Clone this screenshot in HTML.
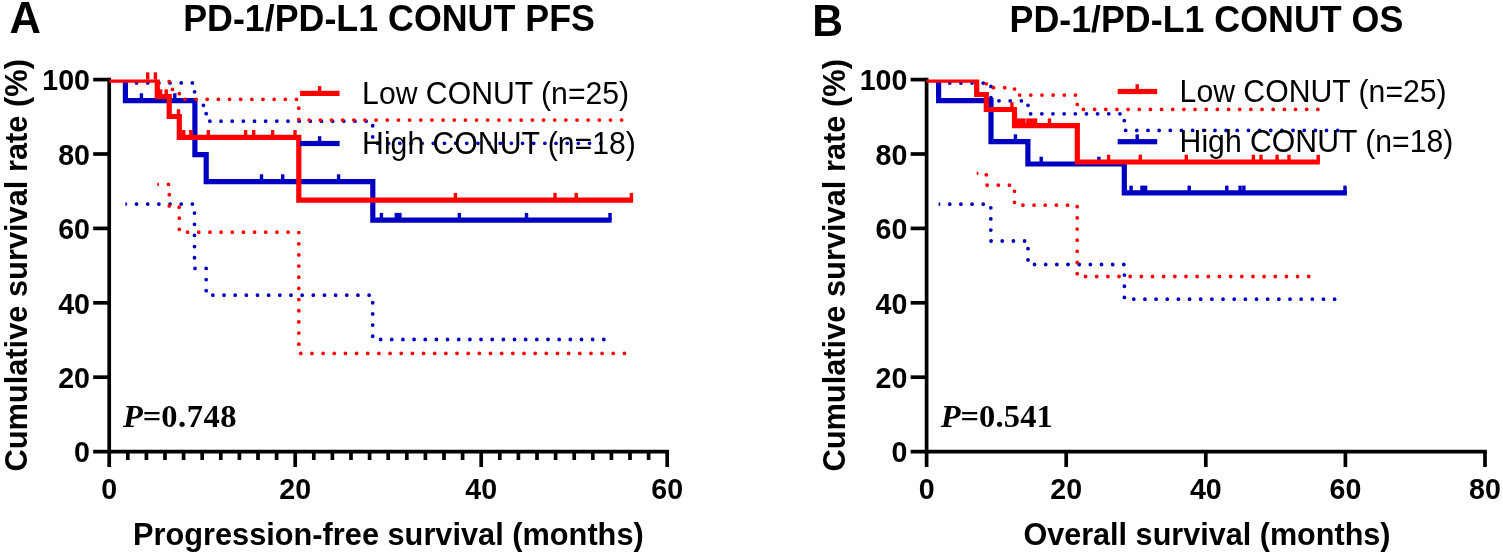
<!DOCTYPE html>
<html><head><meta charset="utf-8"><title>PD-1/PD-L1 CONUT survival</title><style>html,body{margin:0;padding:0;background:#fff;}body{width:1503px;height:554px;overflow:hidden;}svg{display:block;}</style></head><body>
<svg width="1503" height="554" viewBox="0 0 1503 554">
<defs><clipPath id="ca"><rect x="100" y="79.6" width="600" height="380"/></clipPath><clipPath id="cb"><rect x="915" y="79.6" width="600" height="380"/></clipPath><clipPath id="h0"><rect x="125.4" y="0" width="800" height="554"/></clipPath><clipPath id="h1"><rect x="157.3" y="0" width="800" height="554"/></clipPath><clipPath id="h2"><rect x="938.6" y="0" width="800" height="554"/></clipPath><clipPath id="h3"><rect x="976.7" y="0" width="800" height="554"/></clipPath></defs>
<rect width="1503" height="554" fill="#fff"/>
<g stroke="#000000" stroke-width="3.7" fill="none"><line x1="109.2" y1="77.75" x2="109.2" y2="467"/><line x1="93.2" y1="451.6" x2="669.05" y2="451.6"/><line x1="93.2" y1="377.2" x2="109.2" y2="377.2"/><line x1="93.2" y1="302.8" x2="109.2" y2="302.8"/><line x1="93.2" y1="228.4" x2="109.2" y2="228.4"/><line x1="93.2" y1="154" x2="109.2" y2="154"/><line x1="93.2" y1="79.6" x2="109.2" y2="79.6"/><line x1="295.2" y1="451.6" x2="295.2" y2="467"/><line x1="481.2" y1="451.6" x2="481.2" y2="467"/><line x1="667.2" y1="451.6" x2="667.2" y2="467"/><line x1="127.8" y1="451.6" x2="127.8" y2="460"/><line x1="146.4" y1="451.6" x2="146.4" y2="460"/><line x1="165" y1="451.6" x2="165" y2="460"/><line x1="183.6" y1="451.6" x2="183.6" y2="460"/><line x1="202.2" y1="451.6" x2="202.2" y2="460"/><line x1="220.8" y1="451.6" x2="220.8" y2="460"/><line x1="239.4" y1="451.6" x2="239.4" y2="460"/><line x1="258" y1="451.6" x2="258" y2="460"/><line x1="276.6" y1="451.6" x2="276.6" y2="460"/><line x1="313.8" y1="451.6" x2="313.8" y2="460"/><line x1="332.4" y1="451.6" x2="332.4" y2="460"/><line x1="351" y1="451.6" x2="351" y2="460"/><line x1="369.6" y1="451.6" x2="369.6" y2="460"/><line x1="388.2" y1="451.6" x2="388.2" y2="460"/><line x1="406.8" y1="451.6" x2="406.8" y2="460"/><line x1="425.4" y1="451.6" x2="425.4" y2="460"/><line x1="444" y1="451.6" x2="444" y2="460"/><line x1="462.6" y1="451.6" x2="462.6" y2="460"/><line x1="499.8" y1="451.6" x2="499.8" y2="460"/><line x1="518.4" y1="451.6" x2="518.4" y2="460"/><line x1="537" y1="451.6" x2="537" y2="460"/><line x1="555.6" y1="451.6" x2="555.6" y2="460"/><line x1="574.2" y1="451.6" x2="574.2" y2="460"/><line x1="592.8" y1="451.6" x2="592.8" y2="460"/><line x1="611.4" y1="451.6" x2="611.4" y2="460"/><line x1="630" y1="451.6" x2="630" y2="460"/><line x1="648.6" y1="451.6" x2="648.6" y2="460"/></g>
<g font-family="Liberation Sans, Arial, sans-serif" font-weight="bold" font-size="28.6" fill="#000"><text transform="translate(90 462.3) scale(1 1.045)" text-anchor="end">0</text><text transform="translate(90 387.9) scale(1 1.045)" text-anchor="end">20</text><text transform="translate(90 313.5) scale(1 1.045)" text-anchor="end">40</text><text transform="translate(90 239.1) scale(1 1.045)" text-anchor="end">60</text><text transform="translate(90 164.7) scale(1 1.045)" text-anchor="end">80</text><text transform="translate(90 90.3) scale(1 1.045)" text-anchor="end">100</text><text transform="translate(109.2 498.6) scale(1 1.045)" text-anchor="middle">0</text><text transform="translate(295.2 498.6) scale(1 1.045)" text-anchor="middle">20</text><text transform="translate(481.2 498.6) scale(1 1.045)" text-anchor="middle">40</text><text transform="translate(667.2 498.6) scale(1 1.045)" text-anchor="middle">60</text></g>
<g clip-path="url(#ca)"><path d="M125.4 82.9H194.6V105.3H206.2V121.2H372.7V143.3H601.5" stroke="#0000c0" stroke-width="3.8" fill="none" stroke-linecap="round" stroke-dasharray="0 11.16"/><g clip-path="url(#h0)"><path d="M125.4 204.1H194.5V268.4H206.2V295.2H372.7V339.5H604.5" stroke="#0000c0" stroke-width="3.8" fill="none" stroke-linecap="round" stroke-dasharray="0 11.16"/></g><path d="M125.4 81.5V100.6H194.9V154.7H206.2V181.6H372.8V220.2H611.6" stroke="#0000c0" stroke-width="5.2" fill="none" stroke-linejoin="miter" stroke-linecap="butt"/></g><g fill="#0000c0"><rect x="139.7" y="93.3" width="3.4" height="7.3"/><rect x="173.1" y="93.3" width="3.4" height="7.3"/><rect x="259.8" y="174.3" width="3.4" height="7.3"/><rect x="281" y="174.3" width="3.4" height="7.3"/><rect x="336.9" y="174.3" width="3.4" height="7.3"/><rect x="379.7" y="212.9" width="3.4" height="7.3"/><rect x="394.6" y="212.9" width="7" height="7.3"/><rect x="457.6" y="212.9" width="3.4" height="7.3"/><rect x="524.8" y="212.9" width="3.4" height="7.3"/><rect x="608.3" y="212.9" width="3.4" height="7.3"/></g><g clip-path="url(#ca)"><path d="M169.2 81.5V89.4H179.3V99.3H298.8V120.1H622.5" stroke="#ff0000" stroke-width="3.8" fill="none" stroke-linecap="round" stroke-dasharray="0 11.16"/><g clip-path="url(#h1)"><path d="M157.3 184.4H169.3V207.2H179.3V232.2H298.8V353.4H625.5" stroke="#ff0000" stroke-width="3.8" fill="none" stroke-linecap="round" stroke-dasharray="0 11.16"/></g><path d="M109.2 80.2H157.3V96.7H169.2V116.5H179.3V137.3H298.8V200.2H633.1" stroke="#ff0000" stroke-width="5.2" fill="none" stroke-linejoin="miter" stroke-linecap="butt"/></g><g fill="#ff0000"><rect x="146" y="72.3" width="3.4" height="7.3"/><rect x="153.7" y="72.3" width="3.4" height="7.3"/><rect x="158.9" y="89.4" width="3.4" height="7.3"/><rect x="164.5" y="89.4" width="3.4" height="7.3"/><rect x="176.8" y="109.2" width="3.4" height="7.3"/><rect x="182" y="130" width="3.4" height="7.3"/><rect x="189.1" y="130" width="3.4" height="7.3"/><rect x="206.6" y="130" width="3.4" height="7.3"/><rect x="243.9" y="130" width="3.4" height="7.3"/><rect x="252" y="130" width="3.4" height="7.3"/><rect x="270.9" y="130" width="3.4" height="7.3"/><rect x="293.3" y="130" width="3.4" height="7.3"/><rect x="453.7" y="192.9" width="3.4" height="7.3"/><rect x="553.3" y="192.9" width="3.4" height="7.3"/><rect x="574.5" y="192.9" width="3.4" height="7.3"/><rect x="629.7" y="192.9" width="3.4" height="7.3"/></g>
<rect x="300.1" y="90.8" width="39.5" height="5.2" fill="#ff0000"/><rect x="317.9" y="86.1" width="3.4" height="7.3" fill="#ff0000"/><rect x="300.1" y="140.9" width="39.5" height="5.2" fill="#0000c0"/><rect x="317.9" y="136.2" width="3.4" height="7.3" fill="#0000c0"/><g font-family="Liberation Sans, Arial, sans-serif" font-size="30.2" fill="#000"><text transform="translate(362.1 104.2) scale(1 1.045)">Low CONUT (n=25)</text><text transform="translate(362.1 154.2) scale(1 1.045)">High CONUT (n=18)</text></g>
<g stroke="#000000" stroke-width="3.7" fill="none"><line x1="926.6" y1="77.75" x2="926.6" y2="467"/><line x1="910.6" y1="451.6" x2="1486.85" y2="451.6"/><line x1="910.6" y1="377.2" x2="926.6" y2="377.2"/><line x1="910.6" y1="302.8" x2="926.6" y2="302.8"/><line x1="910.6" y1="228.4" x2="926.6" y2="228.4"/><line x1="910.6" y1="154" x2="926.6" y2="154"/><line x1="910.6" y1="79.6" x2="926.6" y2="79.6"/><line x1="1066.2" y1="451.6" x2="1066.2" y2="467"/><line x1="1205.8" y1="451.6" x2="1205.8" y2="467"/><line x1="1345.4" y1="451.6" x2="1345.4" y2="467"/><line x1="1485" y1="451.6" x2="1485" y2="467"/></g>
<g font-family="Liberation Sans, Arial, sans-serif" font-weight="bold" font-size="28.6" fill="#000"><text transform="translate(907.4 462.3) scale(1 1.045)" text-anchor="end">0</text><text transform="translate(907.4 387.9) scale(1 1.045)" text-anchor="end">20</text><text transform="translate(907.4 313.5) scale(1 1.045)" text-anchor="end">40</text><text transform="translate(907.4 239.1) scale(1 1.045)" text-anchor="end">60</text><text transform="translate(907.4 164.7) scale(1 1.045)" text-anchor="end">80</text><text transform="translate(907.4 90.3) scale(1 1.045)" text-anchor="end">100</text><text transform="translate(926.6 498.6) scale(1 1.045)" text-anchor="middle">0</text><text transform="translate(1066.2 498.6) scale(1 1.045)" text-anchor="middle">20</text><text transform="translate(1205.8 498.6) scale(1 1.045)" text-anchor="middle">40</text><text transform="translate(1345.4 498.6) scale(1 1.045)" text-anchor="middle">60</text><text transform="translate(1485 498.6) scale(1 1.045)" text-anchor="middle">80</text></g>
<g clip-path="url(#cb)"><path d="M938.6 83.1H991V100.8H1028V113.8H1124.3V130.4H1338.5" stroke="#0000c0" stroke-width="3.8" fill="none" stroke-linecap="round" stroke-dasharray="0 11.16"/><g clip-path="url(#h2)"><path d="M938.6 204.2H990.8V241H1028V264.5H1124.4V299.2H1335.5" stroke="#0000c0" stroke-width="3.8" fill="none" stroke-linecap="round" stroke-dasharray="0 11.16"/></g><path d="M938.6 81.5V100.6H991V141.6H1027.9V164H1124.3V192.9H1346.9" stroke="#0000c0" stroke-width="5.2" fill="none" stroke-linejoin="miter" stroke-linecap="butt"/></g><g fill="#0000c0"><rect x="1013.7" y="134.3" width="3.4" height="7.3"/><rect x="1039.5" y="156.7" width="3.4" height="7.3"/><rect x="1097.2" y="156.7" width="3.4" height="7.3"/><rect x="1129.4" y="185.6" width="3.4" height="7.3"/><rect x="1140.3" y="185.6" width="7" height="7.3"/><rect x="1187.5" y="185.6" width="3.4" height="7.3"/><rect x="1225.1" y="185.6" width="3.4" height="7.3"/><rect x="1238.4" y="185.6" width="3.4" height="7.3"/><rect x="1242.2" y="185.6" width="3.4" height="7.3"/><rect x="1343.3" y="185.6" width="3.4" height="7.3"/></g><g clip-path="url(#cb)"><path d="M986.3 83.8V87.7H1014.5V95.1H1077.3V109.4H1318.5" stroke="#ff0000" stroke-width="3.8" fill="none" stroke-linecap="round" stroke-dasharray="0 11.16"/><g clip-path="url(#h3)"><path d="M976.7 173.3H986.3V185.2H1014.5V205.2H1077.2V276.5H1309.5" stroke="#ff0000" stroke-width="3.8" fill="none" stroke-linecap="round" stroke-dasharray="0 11.16"/></g><path d="M926.6 80.2H976.7V94.5H986.3V109.5H1014.5V125.7H1077.3V162H1319.8" stroke="#ff0000" stroke-width="5.2" fill="none" stroke-linejoin="miter" stroke-linecap="butt"/></g><g fill="#ff0000"><rect x="1010.2" y="102.2" width="3.4" height="7.3"/><rect x="1047.8" y="118.4" width="3.4" height="7.3"/><rect x="1106.9" y="154.7" width="3.4" height="7.3"/><rect x="1138.6" y="154.7" width="3.4" height="7.3"/><rect x="1184.6" y="154.7" width="3.4" height="7.3"/><rect x="1251.7" y="154.7" width="3.4" height="7.3"/><rect x="1259.3" y="154.7" width="3.4" height="7.3"/><rect x="1275.4" y="154.7" width="3.4" height="7.3"/><rect x="1287.3" y="154.7" width="3.4" height="7.3"/><rect x="1316.5" y="154.7" width="3.4" height="7.3"/></g><g fill="#ff0000"><rect x="1017" y="118.4" width="8.6" height="7.3"/><rect x="1026.2" y="118.4" width="11" height="7.3"/></g>
<rect x="1117.7" y="88.9" width="39.5" height="5.2" fill="#ff0000"/><rect x="1135.5" y="84.2" width="3.4" height="7.3" fill="#ff0000"/><rect x="1117.7" y="139.1" width="39.5" height="5.2" fill="#0000c0"/><rect x="1135.5" y="134.4" width="3.4" height="7.3" fill="#0000c0"/><g font-family="Liberation Sans, Arial, sans-serif" font-size="30.2" fill="#000"><text transform="translate(1179.6 102.3) scale(1 1.045)">Low CONUT (n=25)</text><text transform="translate(1179.6 152.3) scale(1 1.045)">High CONUT (n=18)</text></g>
<g font-family="Liberation Sans, Arial, sans-serif" font-weight="bold" fill="#000">
<text x="9.5" y="32.5" font-size="43.5">A</text>
<text transform="translate(812.3 35.6) scale(1 1.03)" font-size="42.5">B</text>
<text transform="translate(183.2 31.3) scale(1 1.045)" font-size="35.8">PD-1/PD-L1 CONUT PFS</text>
<text transform="translate(1009.5 31.5) scale(1 1.045)" font-size="35.8">PD-1/PD-L1 CONUT OS</text>
<text transform="translate(133.0 544.6) scale(1 1.045)" font-size="30.75">Progression-free survival (months)</text>
<text transform="translate(1023.4 544.7) scale(1 1.045)" font-size="30.6">Overall survival (months)</text>
<text transform="translate(27.2 471.6) rotate(-90) scale(1 1.045)" font-size="30.8">Cumulative survival rate (%)</text>
<text transform="translate(845.0 471.6) rotate(-90) scale(1 1.045)" font-size="30.8">Cumulative survival rate (%)</text>
</g>
<g font-family="Liberation Serif, Times New Roman, serif" font-weight="bold" font-size="32.5" fill="#000">
<text x="122.9" y="426.7"><tspan font-style="italic">P</tspan>=<tspan letter-spacing="0.5">0.748</tspan></text>
<text x="940.7" y="426.7"><tspan font-style="italic">P</tspan>=<tspan letter-spacing="0.15">0.541</tspan></text>
</g>
</svg>
</body></html>
